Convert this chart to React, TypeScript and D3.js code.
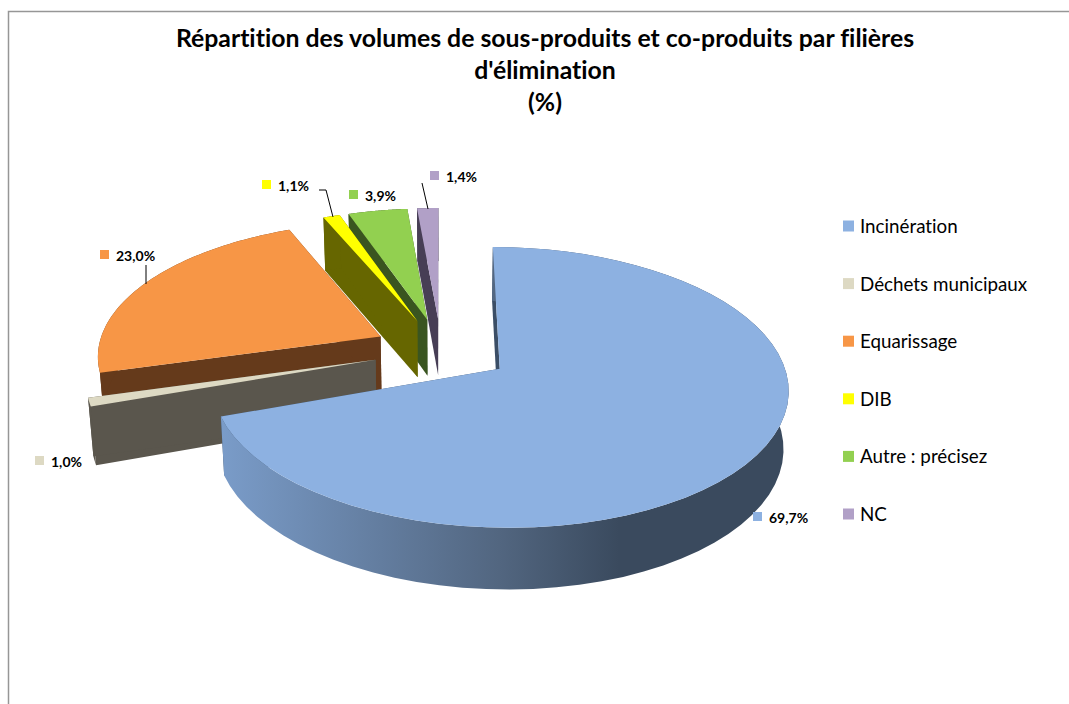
import React from "react";
import * as d3 from "d3";

const categories = ["Incinération", "Déchets municipaux", "Equarissage", "DIB", "Autre : précisez", "NC"];
const values = [69.7, 1.0, 23.0, 1.1, 3.9, 1.4];
const valueLabels = ["69,7%", "1,0%", "23,0%", "1,1%", "3,9%", "1,4%"];
const titleLines = ["Répartition des volumes de sous-produits et co-produits par filières", "d'élimination", "(%)"];

const topColors = ["#8db1e1", "#ddd9c3", "#f79646", "#ffff00", "#92d050", "#b1a0c7"];
const cutColors = ["#3b4e66", "#5a564d", "#653a1b", "#666600", "#3a5520", "#473e55"];
// where each value label sits: swatch left, baseline
const labelPos: [number, number][] = [[753, 522], [35, 466], [100, 260], [262, 190], [349, 200], [430, 181]];
const leaders: [number, number][][] = [
  [[146, 265], [146, 284]],
  [[319, 190], [326, 190], [333, 217]],
  [[422, 183], [428, 209]],
];

const FONT = "Lato, 'Open Sans', sans-serif";
const R = 283, CX = 441, CY = 350, B = 133, G = 0.13, EXPLODE = 0.24, DEPTH = 57;

// perspective: ground point (u,v) in radius units, z 0 top, 1 bottom
const project = (u: number, v: number, z: number): [number, number] => {
  const k = 1 / (1 - v * G);
  const x = u * R * k;
  const y = v * B * k + z * DEPTH * Math.sqrt(k);
  return [CX + x * (1 - 0.015 * z), CY + y];
};

const App = () => {
  const ref = React.useRef<SVGSVGElement>(null);

  React.useEffect(() => {
    const svg = d3.select(ref.current);
    svg.selectAll("*").remove();

    const defs = svg.append("defs");
    const grad = defs.append("linearGradient")
      .attr("id", "blueWall")
      .attr("gradientUnits", "userSpaceOnUse")
      .attr("x1", 220).attr("x2", 790).attr("y1", 0).attr("y2", 0);
    grad.append("stop").attr("offset", "0").attr("stop-color", "#7a9cc9");
    grad.append("stop").attr("offset", "0.49").attr("stop-color", "#526680");
    grad.append("stop").attr("offset", "0.7").attr("stop-color", "#3a4a5e");
    grad.append("stop").attr("offset", "1").attr("stop-color", "#3a4a5e");

    // frame
    svg.append("path")
      .attr("d", "M8.5,704V11.5H1069")
      .attr("fill", "none")
      .attr("stroke", "#969696")
      .attr("stroke-width", 1.5);

    const pie = d3.pie<number>().sort(null).startAngle(0).endAngle(2 * Math.PI);
    const arcs = pie(values);
    const line = d3.line();

    const slices = arcs.map((a, i) => {
      const mid = (a.startAngle + a.endAngle) / 2;
      // the big slice reads a touch narrower and further right in the picture
      const ou = EXPLODE * Math.sin(mid) + (i === 0 ? 0.008 : 0);
      const ov = -EXPLODE * Math.cos(mid);
      const rx = i === 0 ? 0.99 : 1;
      const steps = d3.range(0, 61).map((s) => a.startAngle + (a.endAngle - a.startAngle) * s / 60);
      const rim = (z: number) => steps.map((t) => project(ou + rx * Math.sin(t), ov - Math.cos(t), z));
      const apex = (z: number) => project(ou, ov, z);
      return { i, rim, apex };
    });

    // back slices first, blue on top of everything
    const order = [5, 4, 3, 2, 1, 0];
    order.forEach((i) => {
      const s = slices[i];
      const g = svg.append("g").attr("class", "slice");
      const top = s.rim(0);
      const bottom = s.rim(1);
      const cut = cutColors[i];
      // cut faces
      [[top[0], bottom[0]], [top[top.length - 1], bottom[bottom.length - 1]]].forEach(([p, q]) => {
        g.append("path")
          .attr("d", line([s.apex(0), p, q, s.apex(1)])! + "Z")
          .attr("fill", cut);
      });
      // outer wall
      g.append("path")
        .attr("d", line([...top, ...bottom.slice().reverse()])! + "Z")
        .attr("fill", i === 0 ? "url(#blueWall)" : cut);
      // top face
      g.append("path")
        .attr("d", line([s.apex(0), ...top])! + "Z")
        .attr("fill", topColors[i]);
    });

    // leader lines
    leaders.forEach((l) => {
      svg.append("path")
        .attr("d", line(l)!)
        .attr("fill", "none")
        .attr("stroke", "#000")
        .attr("stroke-width", 1);
    });

    // value labels
    valueLabels.forEach((t, i) => {
      const [x, y] = labelPos[i];
      svg.append("rect")
        .attr("x", x).attr("y", y - 10)
        .attr("width", 9).attr("height", 9)
        .attr("fill", topColors[i]);
      svg.append("text")
        .attr("x", x + 16).attr("y", y + 0.5)
        .attr("font-family", FONT)
        .attr("font-size", 14)
        .attr("font-weight", 700)
        .attr("fill", "#000")
        .text(t);
    });

    // legend
    const legendY = d3.scalePoint<string>().domain(categories).range([226, 514]);
    categories.forEach((c, i) => {
      const y = legendY(c)!;
      svg.append("rect")
        .attr("x", 843).attr("y", y - 5.5)
        .attr("width", 11).attr("height", 11)
        .attr("fill", topColors[i]);
      svg.append("text")
        .attr("x", 860).attr("y", y + 7)
        .attr("font-family", FONT)
        .attr("font-size", 18.8)
        .style("font-variant-ligatures", "none")
        .attr("fill", "#000")
        .text(c);
    });

    // title
    titleLines.forEach((t, i) => {
      svg.append("text")
        .attr("x", 545).attr("y", 47 + i * 32)
        .attr("text-anchor", "middle")
        .attr("font-family", FONT)
        .attr("font-size", 24.8)
        .attr("font-weight", 700)
        .style("font-variant-ligatures", "none")
        .attr("fill", "#000")
        .text(t);
    });
  }, []);

  return (
    <svg
      ref={ref}
      width={1069}
      height={704}
      style={{ position: "absolute", left: 0, top: 0, display: "block", background: "#fff" }}
    />
  );
};

export default App;
